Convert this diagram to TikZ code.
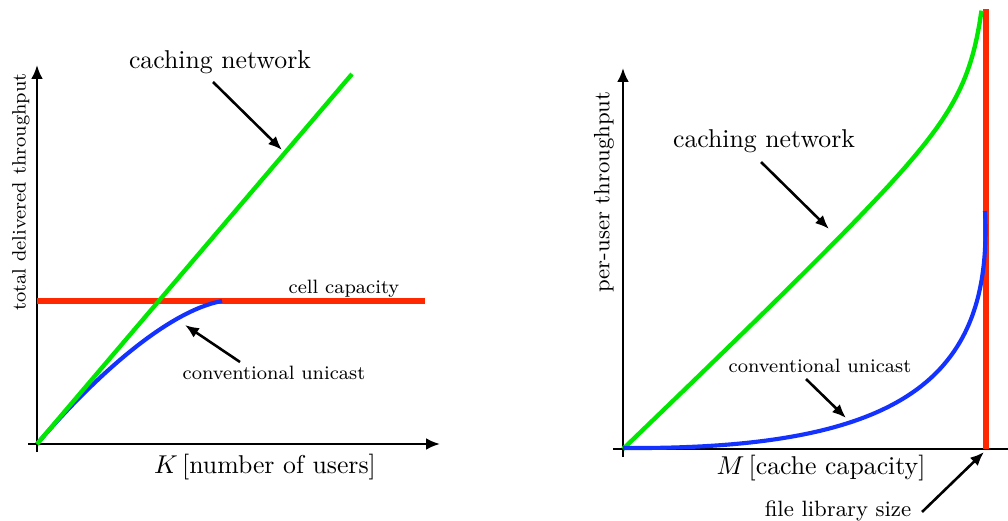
\documentclass[tikz,border=0pt]{standalone}
\usepackage{tikz}
\usetikzlibrary{arrows.meta}
\definecolor{capgreen}{RGB}{0,232,0}
\definecolor{capred}{RGB}{255,40,0}
\definecolor{capblue}{RGB}{20,50,255}
\tikzset{%
  >={Latex[width=4.6pt,length=5.4pt]},
  % styles for axes, curves and labels
        axis/.style = {line width=1pt, ->},
     pointer/.style = {line width=1pt, -{Latex[width=4.4pt,length=5.4pt]}},
    greencrv/.style = {capgreen, line width=1.7pt},
      redcrv/.style = {capred, line width=2.3pt},
     bluecrv/.style = {capblue, line width=1.6pt},
    biglabel/.style = {inner sep=1pt, font=\normalsize},
  smalllabel/.style = {inner sep=1pt, font=\fontsize{7.5}{9}\selectfont},
    midlabel/.style = {inner sep=1pt, font=\fontsize{8.6}{10}\selectfont},
}

\begin{document}
\begin{tikzpicture}[x=0.388pt, y=-0.388pt]
  \useasboundingbox (0,0) rectangle (1008,521);
  % left plot: total delivered throughput
  \draw[axis] (37,452) -- (37,65);
  \draw[axis] (28,444) -- (440,444);
  \draw[redcrv] (37,301) -- (425,301);
  \draw[bluecrv] (37,444) .. controls (95,376) and (168,311) .. (222,301);
  \draw[greencrv] (37,444) -- (352,74);

  \node[biglabel]   (cachL) at (220,62)  {caching network};
  \node[smalllabel] (cellL) at (344,289) {cell capacity};
  \node[smalllabel] (convL) at (274,373) {conventional unicast};
  \node[biglabel]   (xlabL) at (265,467) {$K\,$[number of users]};
  \node[smalllabel, rotate=90] (ylabL) at (21,192) {total delivered throughput};

  \coordinate (cachLfrom) at (213,82);
  \coordinate (cachLto)   at (282,150);
  \coordinate (convLfrom) at (240,362);
  \coordinate (convLto)   at (185,325);
  \draw[pointer] (cachLfrom) -- (cachLto);
  \draw[pointer] (convLfrom) -- (convLto);

  % right plot: per-user throughput
  \draw[axis] (623,457) -- (623,68);
  \draw[line width=1pt] (613,449) -- (1008,449);
  \draw[redcrv] (986,449) -- (986,9);
  \draw[greencrv] plot[domain=0:358.5, samples=160]
    ({623+\x}, {449-(0.95*\x+4.5*\x/(375-\x))});
  \draw[bluecrv] (623,448) .. controls (900,450) and (993,380) .. (985,211);

  \node[biglabel]   (cachR) at (764,141) {caching network};
  \node[smalllabel] (convR) at (820,366) {conventional unicast};
  \node[biglabel]   (xlabR) at (821,468) {$M\,$[cache capacity]};
  \node[midlabel]   (fileR) at (838,511) {file library size};
  \node[midlabel, rotate=90] (ylabR) at (604,192) {per-user throughput};

  \coordinate (cachRfrom) at (761,162);
  \coordinate (cachRto)   at (829,229);
  \coordinate (convRfrom) at (806,379);
  \coordinate (convRto)   at (846,418);
  \coordinate (fileRfrom) at (922,512);
  \coordinate (fileRto)   at (984,452);
  \draw[pointer] (cachRfrom) -- (cachRto);
  \draw[pointer] (convRfrom) -- (convRto);
  \draw[pointer] (fileRfrom) -- (fileRto);
\end{tikzpicture}
\end{document}
